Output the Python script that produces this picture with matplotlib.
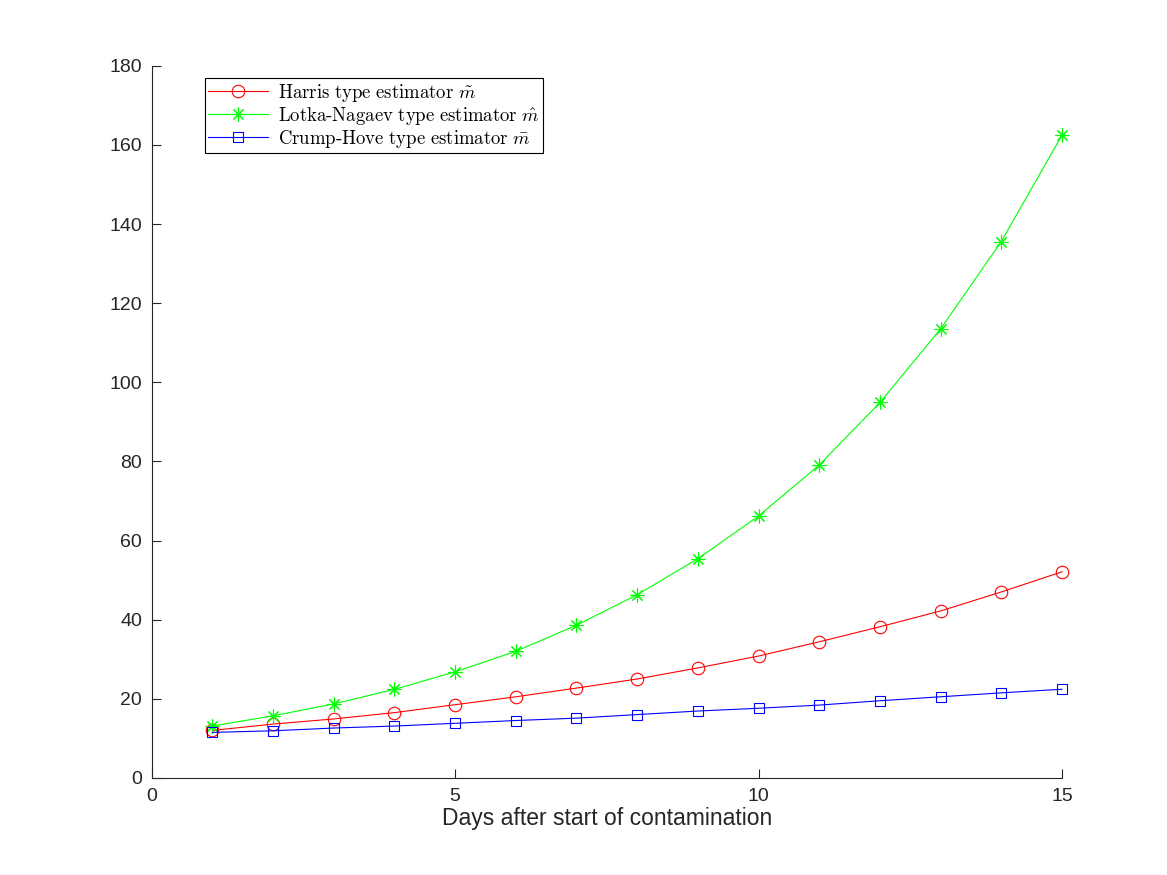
import numpy as np
import matplotlib
matplotlib.use("Agg")
import matplotlib.pyplot as plt

plt.rcParams['font.family'] = ['Liberation Sans', 'DejaVu Sans']
plt.rcParams['mathtext.fontset'] = 'cm'

# --- data ---
days = np.arange(1, 16)
harris = [12.0, 13.6, 14.9, 16.5, 18.5, 20.5, 22.7, 25.0, 27.8, 30.8,
          34.4, 38.2, 42.2, 47.0, 52.1]
lotka = [13.1, 15.7, 18.7, 22.4, 26.8, 32.0, 38.6, 46.3, 55.4, 66.2,
         79.1, 94.9, 113.5, 135.6, 162.5]
crump = [11.5, 11.9, 12.6, 13.1, 13.8, 14.5, 15.1, 16.0, 16.9, 17.6,
         18.4, 19.5, 20.5, 21.5, 22.4]

labels = [r'$\mathrm{Harris\ type\ estimator}\ \tilde{m}$',
          r'$\mathrm{Lotka\text{-}Nagaev\ type\ estimator}\ \hat{m}$',
          r'$\mathrm{Crump\text{-}Hove\ type\ estimator}\ \bar{m}$']

fig = plt.figure(figsize=(11.67, 8.75), dpi=100)
ax = fig.add_axes([0.130, 0.111, 0.780, 0.8137])

ax.plot(days, harris, color='#ff0000', lw=0.8, marker='o', ms=9,
        mfc='none', mew=0.8, label=labels[0], clip_on=False)
ax.plot(days, lotka, color='#00ff00', lw=0.8, marker=(8, 2, 0), ms=10,
        mew=0.8, label=labels[1], clip_on=False)
ax.plot(days, crump, color='#0000ff', lw=0.8, marker='s', ms=7.5,
        mfc='none', mew=0.8, label=labels[2], clip_on=False)

ax.set_xlim(0, 15)
ax.set_ylim(0, 180)
ax.set_xticks([0, 5, 10, 15])
ax.set_yticks(np.arange(0, 181, 20))
ax.set_xlabel('Days after start of contamination', fontsize=16.5,
              color='#262626', labelpad=2)

for s in ['top', 'right']:
    ax.spines[s].set_visible(False)
for s in ['left', 'bottom']:
    ax.spines[s].set_color('#262626')
    ax.spines[s].set_linewidth(0.8)
ax.tick_params(direction='in', length=6.5, width=0.8, colors='#262626',
               labelsize=14, pad=7)

leg = ax.legend(loc='upper left', bbox_to_anchor=(0.058, 0.983),
                borderaxespad=0, fontsize=13.5, fancybox=False,
                framealpha=1, edgecolor='black', handlelength=3.2,
                labelspacing=0.05, borderpad=0.2, handletextpad=0.5)
leg.get_frame().set_linewidth(0.8)

fig.savefig('out.png', dpi=100)
